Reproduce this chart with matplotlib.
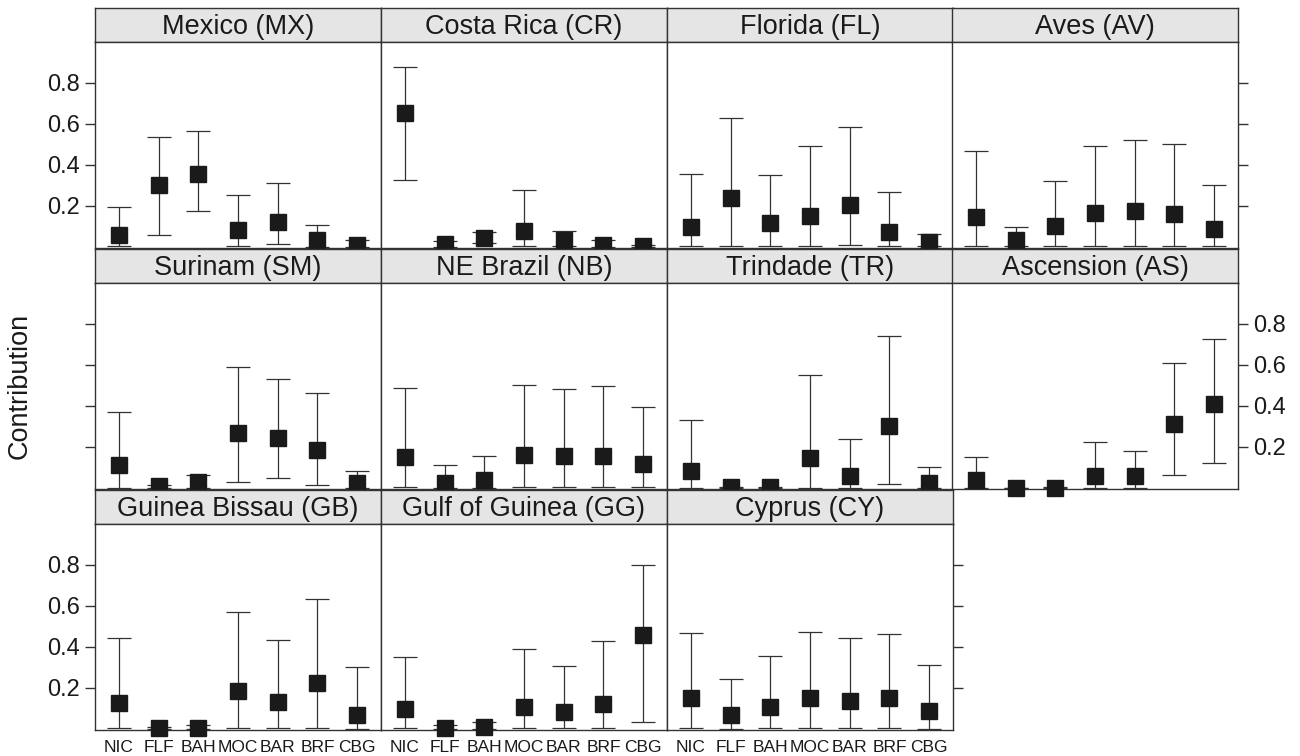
import matplotlib
matplotlib.use("Agg")
import matplotlib.pyplot as plt
from matplotlib import font_manager

# rookery (source) codes on the x axis
sources = ["NIC", "FLF", "BAH", "MOC", "BAR", "BRF", "CBG"]

# foraging areas, in panel order (left to right, top to bottom)
areas = ["Mexico (MX)", "Costa Rica (CR)", "Florida (FL)", "Aves (AV)",
         "Surinam (SM)", "NE Brazil (NB)", "Trindade (TR)", "Ascension (AS)",
         "Guinea Bissau (GB)", "Gulf of Guinea (GG)", "Cyprus (CY)"]

# mean contribution per area and source
estimate = [
    [0.059, 0.302, 0.356, 0.083, 0.122, 0.033, 0.011],
    [0.654, 0.015, 0.046, 0.078, 0.033, 0.008, 0.003],
    [0.098, 0.237, 0.117, 0.150, 0.205, 0.073, 0.024],
    [0.146, 0.033, 0.102, 0.166, 0.176, 0.163, 0.088],
    [0.113, 0.011, 0.028, 0.270, 0.245, 0.186, 0.023],
    [0.152, 0.026, 0.039, 0.163, 0.158, 0.158, 0.118],
    [0.085, 0.004, 0.004, 0.147, 0.059, 0.300, 0.026],
    [0.039, 0.000, 0.000, 0.059, 0.056, 0.314, 0.412],
    [0.128, 0.004, 0.004, 0.184, 0.130, 0.225, 0.066],
    [0.097, 0.004, 0.009, 0.105, 0.081, 0.120, 0.459],
    [0.150, 0.066, 0.105, 0.150, 0.135, 0.150, 0.086],
]

# lower and upper credible limits
lower = [
    [0.003, 0.060, 0.174, 0.007, 0.015, 0.000, 0.000],
    [0.328, 0.000, 0.018, 0.007, 0.003, 0.000, 0.000],
    [0.003, 0.006, 0.005, 0.005, 0.010, 0.003, 0.003],
    [0.006, 0.003, 0.003, 0.006, 0.006, 0.006, 0.003],
    [0.000, 0.000, 0.000, 0.029, 0.051, 0.015, 0.000],
    [0.003, 0.000, 0.000, 0.003, 0.003, 0.003, 0.003],
    [0.000, 0.000, 0.000, 0.000, 0.000, 0.018, 0.000],
    [0.000, 0.000, 0.000, 0.000, 0.000, 0.064, 0.121],
    [0.003, 0.000, 0.000, 0.004, 0.004, 0.007, 0.001],
    [0.003, 0.000, 0.001, 0.003, 0.003, 0.003, 0.034],
    [0.004, 0.001, 0.004, 0.004, 0.004, 0.004, 0.001],
]
upper = [
    [0.197, 0.535, 0.567, 0.255, 0.310, 0.109, 0.033],
    [0.878, 0.028, 0.073, 0.278, 0.076, 0.036, 0.012],
    [0.354, 0.631, 0.351, 0.494, 0.584, 0.270, 0.063],
    [0.468, 0.096, 0.324, 0.494, 0.520, 0.500, 0.300],
    [0.373, 0.014, 0.064, 0.588, 0.534, 0.462, 0.082],
    [0.490, 0.111, 0.158, 0.503, 0.485, 0.498, 0.395],
    [0.330, 0.006, 0.006, 0.549, 0.237, 0.743, 0.101],
    [0.150, 0.002, 0.004, 0.224, 0.180, 0.611, 0.725],
    [0.442, 0.010, 0.017, 0.570, 0.432, 0.635, 0.300],
    [0.351, 0.019, 0.034, 0.392, 0.305, 0.428, 0.802],
    [0.467, 0.245, 0.354, 0.475, 0.444, 0.465, 0.310],
]

installed = {f.name for f in font_manager.fontManager.ttflist}
family = "Liberation Sans Narrow" if "Liberation Sans Narrow" in installed else "Liberation Sans"
plt.rcParams["font.family"] = [family, "DejaVu Sans"]

W, H = 1300, 756
fig = plt.figure(figsize=(W / 100, H / 100), dpi=100)

col_x = [95, 381, 667, 952]
col_w = 286
row_top = [8, 249, 490]
strip_h = 34
panel_h = 206
edge = "#333333"
ncol = 4

x = list(range(1, len(sources) + 1))
for i, area in enumerate(areas):
    r, c = divmod(i, ncol)
    left = col_x[c] / W
    w = col_w / W
    strip_bottom = 1 - (row_top[r] + strip_h) / H
    panel_bottom = 1 - (row_top[r] + strip_h + panel_h) / H

    st = fig.add_axes([left, strip_bottom, w, strip_h / H])
    st.set_facecolor("#e5e5e5")
    st.set_xticks([])
    st.set_yticks([])
    for s in st.spines.values():
        s.set_color(edge)
        s.set_linewidth(1.0)
    st.text(0.5, 0.45, area, ha="center", va="center", fontsize=19.5,
            color="#1a1a1a", transform=st.transAxes)

    ax = fig.add_axes([left, panel_bottom, w, panel_h / H])
    yerr = [[max(e - l, 0) for e, l in zip(estimate[i], lower[i])],
            [max(u - e, 0) for e, u in zip(estimate[i], upper[i])]]
    ax.errorbar(x, estimate[i], yerr=yerr, fmt="s", color="#1a1a1a",
                ecolor="#333333", elinewidth=0.9, capsize=8.5, capthick=0.9,
                markersize=11, clip_on=False, zorder=3)
    ax.set_xlim(0.4, 7.6)
    ax.set_ylim(-0.005, 1.0)
    for s in ax.spines.values():
        s.set_color(edge)
        s.set_linewidth(1.0)

    last_row = r == 2
    ax.set_xticks(x)
    if last_row:
        ax.set_xticklabels(sources, fontsize=12.5, color="#1a1a1a")
        ax.tick_params(axis="x", length=0, pad=7)
    else:
        ax.tick_params(axis="x", length=0, labelbottom=False)

    ax.set_yticks([0.2, 0.4, 0.6, 0.8])
    ax.set_yticklabels(["0.2", "0.4", "0.6", "0.8"])
    ax.tick_params(axis="y", length=7, width=1.0, color=edge, labelsize=17,
                   labelcolor="#1a1a1a", pad=4, left=False, right=False,
                   labelleft=False, labelright=False)
    is_last_in_row = (c == ncol - 1) or (i == len(areas) - 1)
    if c == 0:
        ax.tick_params(axis="y", left=True, labelleft=(r != 1))
    if is_last_in_row:
        ax.tick_params(axis="y", right=True, labelright=(r == 1))

fig.text(20 / W, 1 - 386 / H, "Contribution", rotation=90, ha="center",
         va="center", fontsize=19.5, color="#1a1a1a")

fig.savefig("out.png", dpi=100)
